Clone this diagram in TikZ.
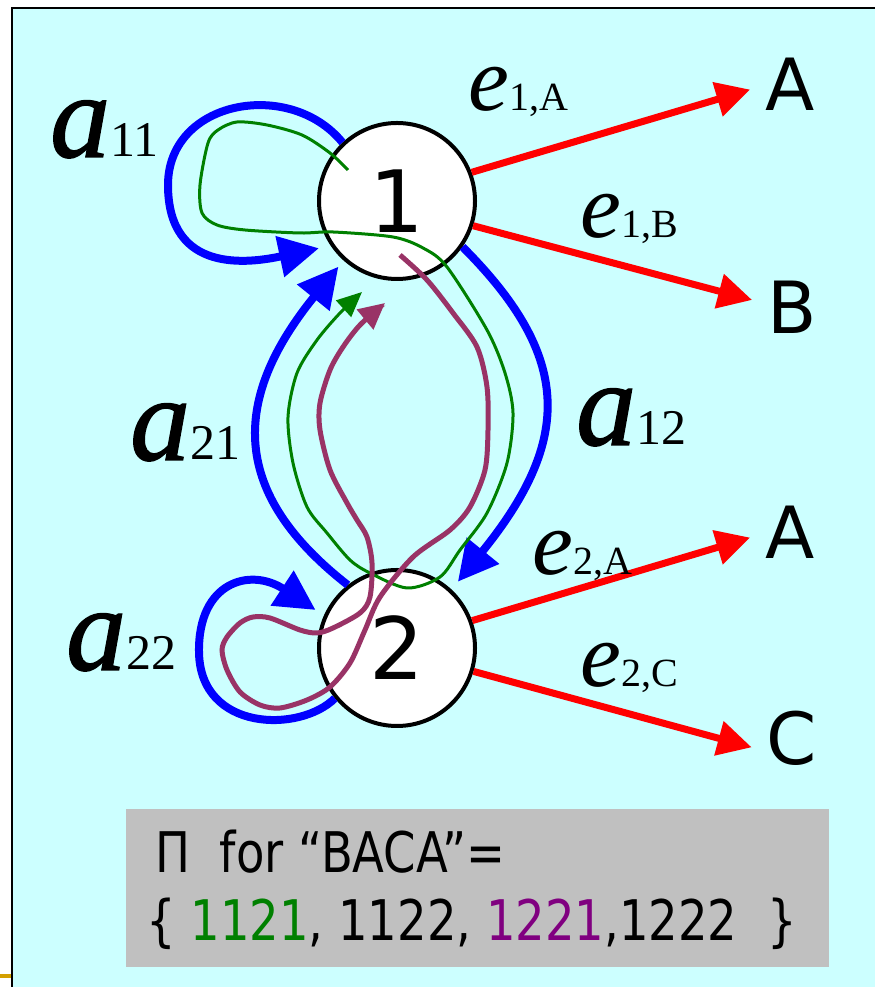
\documentclass[tikz,border=0pt]{standalone}
\usepackage{fontspec}
\setmainfont{Liberation Serif}
\newfontfamily\symfont{DejaVu Sans}
\newfontfamily\boxfont[FakeStretch=0.83]{DejaVu Sans}
\newfontfamily\afont[FakeBold=1.2]{Liberation Serif Italic}
\usetikzlibrary{arrows.meta,calc}

\definecolor{panel}{RGB}{204,255,255}
\definecolor{trgreen}{RGB}{0,128,0}
\definecolor{trplum}{RGB}{153,51,102}
\definecolor{txplum}{RGB}{128,0,128}
\definecolor{edgegold}{RGB}{212,160,0}
\definecolor{boxgray}{RGB}{192,192,192}

% emission e_{i,x} and transition a_{ij} labels
\newcommand{\emis}[2]{{\fontsize{92}{92}\selectfont\itshape e}{\fontsize{40}{40}\selectfont #1,#2}}
\newcommand{\trans}[1]{{\fontsize{120}{120}\selectfont\afont a}{\fontsize{50}{50}\selectfont #1}}

\tikzset{
  state/.style={circle,draw,line width=4pt,fill=white,minimum size=156pt,inner sep=0pt,
    font=\symfont\fontsize{86}{86}\selectfont},
  sym/.style={inner sep=15pt,font=\symfont\fontsize{72}{72}\selectfont},
  lbl/.style={anchor=base west,inner sep=0pt},
  emit/.style={red,line width=7pt,-{Triangle[length=34pt,width=34pt]}},
  arc/.style={blue,line width=8pt,-{Triangle[length=40pt,width=40pt]}},
}

\begin{document}
\begin{tikzpicture}[x=1pt,y=1pt]
\useasboundingbox (0,0) rectangle (875,987);
\fill[panel] (12,0) rectangle (875,979);
\draw[line width=2pt] (12,0)--(12,979)--(875,979);
\draw[edgegold,line width=4pt] (0,11)--(11,11);

% states and emitted symbols
\node[state] (s1) at (397,786) {1};
\node[state] (s2) at (397,339) {2};
\node[sym] (oA1) at (790,903) {A};
\node[sym] (oB1) at (792,680) {B};
\node[sym] (oA2) at (790,455) {A};
\node[sym] (oC2) at (792,249) {C};

\draw[emit] (s1.21)--(oA1.188);
\draw[emit] (s1.-18)--(oB1.170);
\draw[emit] (s2.20)--(oA2.188);
\draw[emit] (s2.-17)--(oC2.193);

% transitions
\draw[arc,shorten >=12pt] (s1.133) .. controls (290,909) and (168,887) .. (168,802)
  .. controls (168,712) and (250,724) .. (s1.214);
\draw[arc,shorten >=8pt] (s2.128) to[out=142,in=231,out distance=148pt,in distance=181pt] (s1.228);
\draw[arc,shorten >=10pt] (s1.-35) to[out=-45,in=51,out distance=155pt,in distance=193pt] (s2.47);
\draw[arc,shorten >=10pt] (s2.219) .. controls (300,254) and (200,255) .. (199,335)
  .. controls (198,405) and (250,420) .. (s2.156);

% paths 1121 and 1221
\coordinate (g0) at ($(s1)+(-49,31)$);
\coordinate (g1) at ($(s1)+(-35,-91)$);
\coordinate (p0) at ($(s1)+(3,-54)$);
\coordinate (p1) at ($(s1)+(-12,-102)$);
\draw[trgreen,line width=3pt,-{Triangle[length=25pt,width=22pt]}] plot[smooth,tension=0.5] coordinates {
  (g0) (330,834) (302,852) (267,862) (237,865) (218,857) (208,844) (200,802) (202,774)
  (217,762) (245,757) (300,754) (333,755) (393,750) (423,739) (447,720) (487,657)
  (505,614) (513,574) (507,524) (487,474) (460,437) (440,410) (407,399) (370,414)
  (350,427) (327,454) (307,480) (293,524) (288,570) (297,614) (317,647) (340,674) (g1)};
\draw[trplum,line width=5pt,-{Triangle[length=26pt,width=25pt]}] plot[smooth,tension=0.5] coordinates {
  (p0) (427,707) (453,674) (477,640) (487,600) (488,557) (485,517) (470,480) (450,457)
  (413,430) (380,390) (365,357) (350,324) (330,300) (307,287) (280,279) (260,282)
  (240,295) (227,317) (222,337) (227,350) (240,364) (253,370) (270,369) (300,357)
  (317,354) (333,359) (360,374) (370,390) (372,424) (367,450) (357,467) (347,484)
  (330,517) (320,557) (320,584) (330,617) (343,640) (360,662) (p1)};

% labels
\node[lbl] (e1A) at (468,876) {\emis{1}{A}};
\node[lbl] (e1B) at (580,749) {\emis{1}{B}};
\node[lbl] (e2A) at (532,412) {\emis{2}{A}};
\node[lbl] (e2C) at (580,300) {\emis{2}{C}};
\node[lbl] (a11) at (50,830) {\trans{11}};
\node[lbl] (a21) at (130,527) {\trans{21}};
\node[lbl] (a12) at (576,542) {\trans{12}};
\node[lbl] (a22) at (66,317) {\trans{22}};

% path set
\fill[boxgray] (126,20) rectangle (829,178);
\node[lbl,font=\boxfont\fontsize{56}{56}\selectfont] (pihead) at (155,114) {Π\ \ for “BACA”=};
\node[lbl,font=\boxfont\fontsize{56}{56}\selectfont] (piset) at (146,46)
  {\{ \textcolor{trgreen}{1121}, 1122, \textcolor{txplum}{1221},1222\ \ \}};
\end{tikzpicture}
\end{document}
